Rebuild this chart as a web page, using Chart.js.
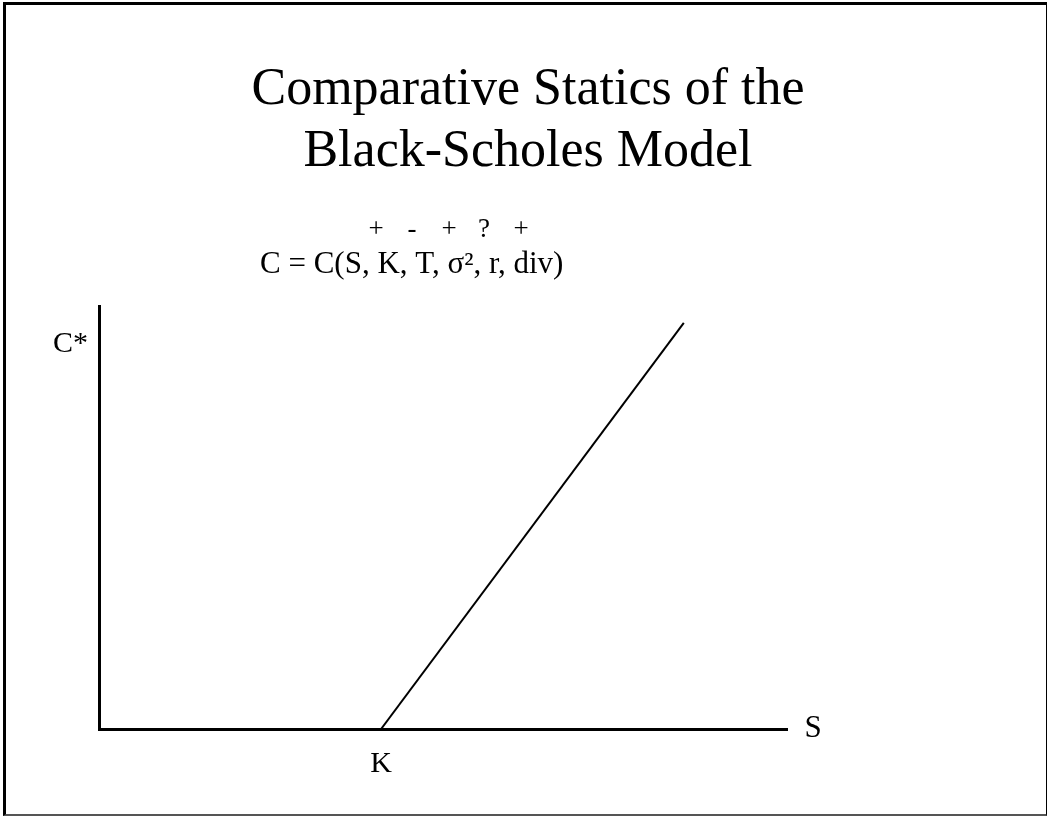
<!DOCTYPE html>
<html>
<head>
<meta charset="utf-8">
<script src="https://cdn.jsdelivr.net/npm/chart.js@4/dist/chart.umd.min.js"></script>
<style>
    html, body { margin: 0; padding: 0; background: #fff; }
    #wrap { position: relative; width: 1047px; height: 816px; }
    #frame {
        position: absolute; left: 3px; top: 2px; right: 0; bottom: 0;
        border-left: 3px solid #000; border-top: 3px solid #000;
        border-right: 1px solid #000; border-bottom: 2px solid #555;
        pointer-events: none;
    }
</style>
</head>
<body>
<div id="wrap">
    <canvas id="payoffChart" width="1047" height="816"></canvas>
    <div id="frame"></div>
</div>
<script>
const titleLines = ['Comparative Statics of the', 'Black-Scholes Model'];
const signLabels = ['+', '-', '+', '?', '+'];
const formulaText = 'C = C(S, K, T, σ², r, div)';
const strikePrice = 41;
const stockPrices = [41, 85];
const callValues = [0, 96];
const xAxisLabel = 'S';
const yAxisLabel = 'C*';
const yLabelValue = 91;

const serif = '"Liberation Serif", "Times New Roman", serif';

// title, sign row, formula and the "S" label are drawn on the canvas
const textPlugin = {
    id: 'slideText',
    afterDraw(chart) {
        const ctx = chart.ctx;
        const xScale = chart.scales.x;
        ctx.save();
        ctx.fillStyle = '#000';
        ctx.textBaseline = 'alphabetic';

        ctx.font = '52px ' + serif;
        ctx.textAlign = 'center';
        ctx.fillText(titleLines[0], 528, 104);
        ctx.fillText(titleLines[1], 528, 166);

        ctx.font = '27px ' + serif;
        const signX = [376, 412, 449, 484, 521];
        signLabels.forEach((s, i) => ctx.fillText(s, signX[i], 237));

        ctx.font = '31px ' + serif;
        ctx.textAlign = 'left';
        ctx.fillText(formulaText, 260, 273);

        ctx.textBaseline = 'middle';
        ctx.textAlign = 'center';
        ctx.fillText(xAxisLabel, xScale.right + 26, xScale.top);
        ctx.restore();
    }
};

new Chart(document.getElementById('payoffChart'), {
    type: 'line',
    data: {
        datasets: [{
            data: stockPrices.map((s, i) => ({x: s, y: callValues[i]})),
            borderColor: '#000',
            borderWidth: 2,
            pointRadius: 0,
            fill: false
        }]
    },
    options: {
        responsive: false,
        animation: false,
        layout: {padding: {left: 29, right: 260, top: 306, bottom: 27}},
        plugins: {legend: {display: false}, tooltip: {enabled: false}},
        scales: {
            x: {
                type: 'linear', min: 0, max: 100,
                grid: {display: false, drawTicks: false},
                border: {color: '#000', width: 3},
                afterBuildTicks: scale => { scale.ticks = [{value: strikePrice}]; },
                afterFit: scale => { scale.height = 60; },
                ticks: {
                    callback: () => 'K',
                    color: '#000', padding: 17,
                    maxRotation: 0, autoSkip: false,
                    font: {family: serif, size: 30}
                }
            },
            y: {
                type: 'linear', min: 0, max: 100,
                grid: {display: false, drawTicks: false},
                border: {color: '#000', width: 3},
                afterBuildTicks: scale => { scale.ticks = [{value: yLabelValue}]; },
                afterFit: scale => { scale.width = 70; },
                ticks: {
                    callback: () => yAxisLabel,
                    color: '#000', padding: 11,
                    autoSkip: false,
                    font: {family: serif, size: 30}
                }
            }
        }
    },
    plugins: [textPlugin]
});
</script>
</body>
</html>
